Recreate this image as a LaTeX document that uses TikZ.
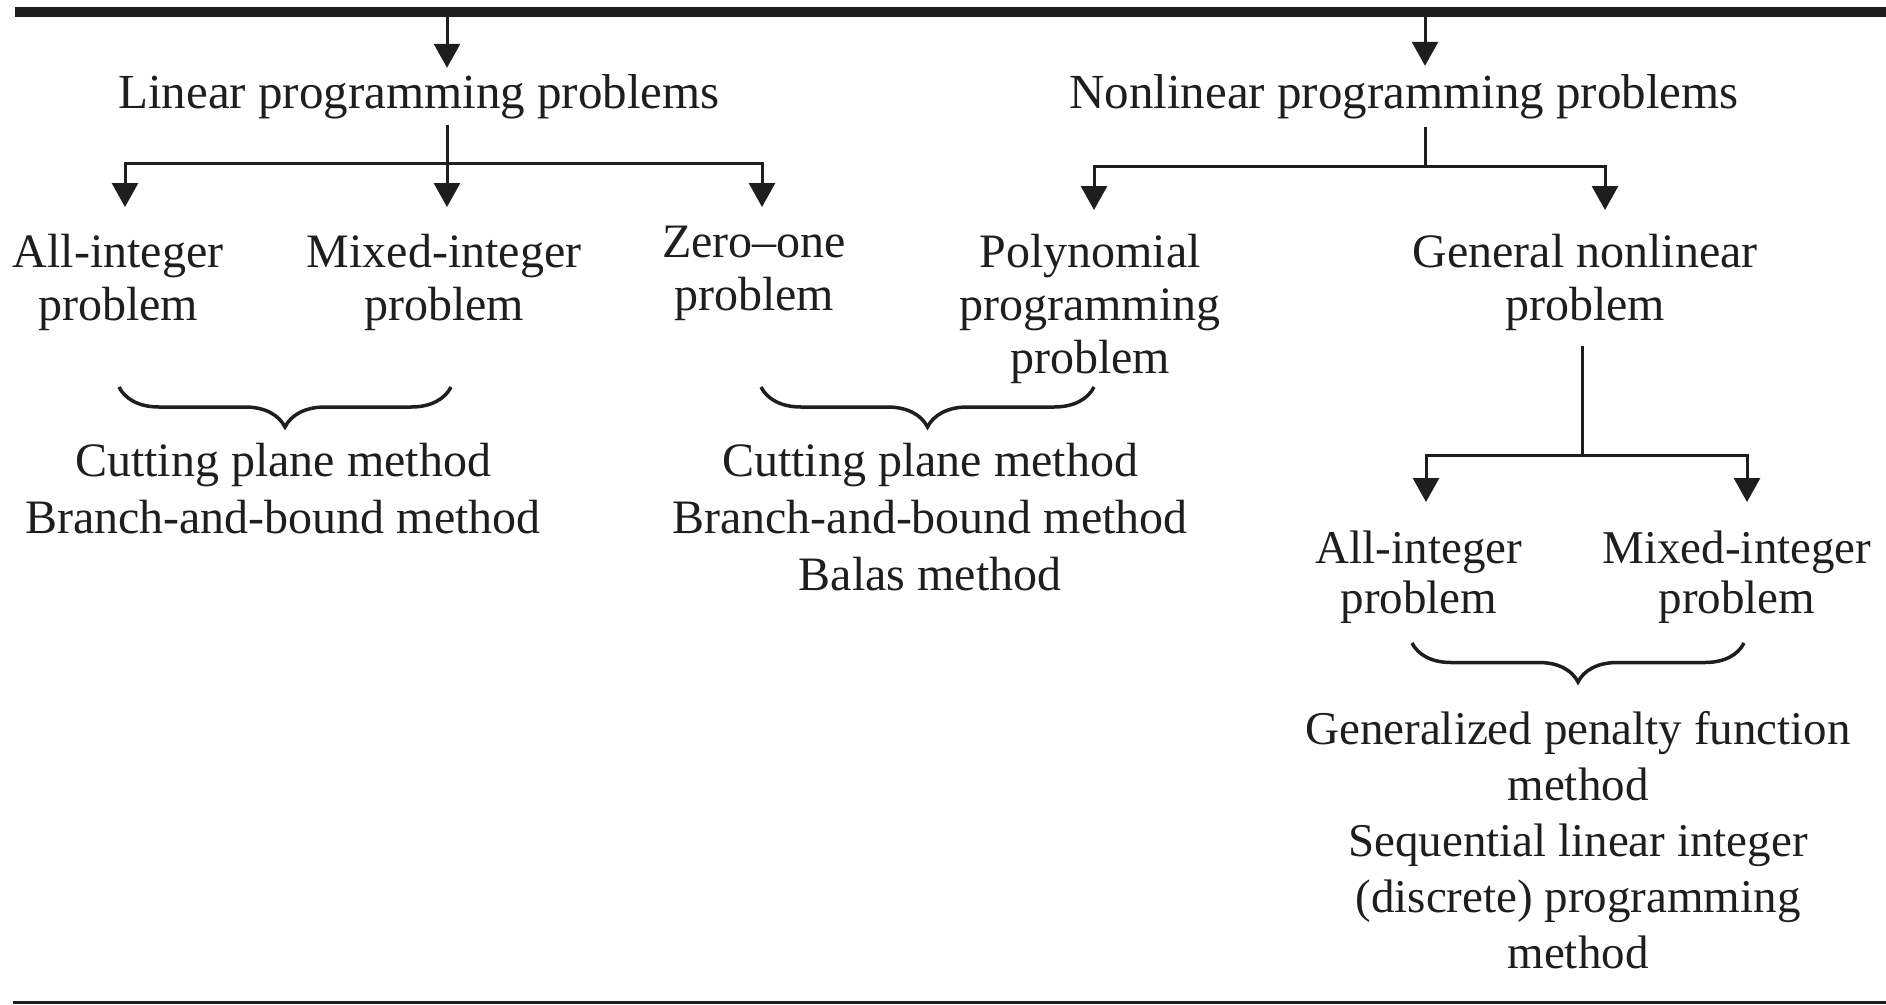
\documentclass[tikz,border=0pt]{standalone}
\usepackage{fontspec}
\setmainfont{Liberation Serif}
\usetikzlibrary{arrows.meta,decorations.pathreplacing,calc}
\definecolor{ink}{HTML}{1E1E1E}
\begin{document}
\begin{tikzpicture}[x=1pt,y=-1pt,
  txt/.style={inner sep=0pt, align=center, anchor=base, text=ink, font=\fontsize{48}{53}\selectfont},
  head/.style={txt, font=\fontsize{49}{56}\selectfont},
  meth/.style={txt, font=\fontsize{48}{57}\selectfont},
  leafb/.style={txt, font=\fontsize{47}{50}\selectfont},
  methb/.style={txt, font=\fontsize{47}{56}\selectfont},
  conn/.style={draw=ink, line width=3pt},
  arr/.style={conn, -{Triangle[width=26pt,length=24pt]}},
  brc/.style={draw=ink, line width=3.5pt, decorate, decoration={brace, amplitude=40pt}},
]
\useasboundingbox (0,0) rectangle (1886,1004);
% rules
\fill[ink] (15,7) rectangle (1886,17);
\fill[ink] (13,1001) rectangle (1886,1004);

% texts (anchor base = baseline of last line)
\node[head] (lp)  at (419,108)  {Linear programming problems};
\node[head] (nlp) at (1404,108) {Nonlinear programming problems};
\node[txt] (ai1)  at (118,320)  {All-integer\\problem};
\node[txt] (mi1)  at (444,320)  {Mixed-integer\\problem};
\node[txt] (zo)   at (754,310)  {Zero–one\\problem};
\node[txt] (poly) at (1090,373) {Polynomial\\programming\\problem};
\node[txt] (gen)  at (1585,320) {General nonlinear\\problem};
\node[leafb] (ai2) at (1419,613) {All-integer\\problem};
\node[leafb] (mi2) at (1737,613) {Mixed-integer\\problem};
\node[meth] (m1) at (283,533) {Cutting plane method\\Branch-and-bound method};
\node[meth] (m2) at (930,590) {Cutting plane method\\Branch-and-bound method\\Balas method};
\node[methb] (m3) at (1578,968) {Generalized penalty function\\method\\Sequential linear integer\\(discrete) programming\\method};

% coordinates
\coordinate (t1) at (447,17);
\coordinate (t2) at (1425,17);
\coordinate (j1) at (447,163);
\coordinate (j2) at (1425,166);
\coordinate (j3) at (1582,455);
\coordinate (a1) at (125,207);
\coordinate (a2) at (447,207);
\coordinate (a3) at (762,207);
\coordinate (b1) at (1094,210);
\coordinate (b2) at (1605,210);
\coordinate (c1) at (1426,502);
\coordinate (c2) at (1747,502);

% connectors
\draw[arr, shorten >=6pt] (t1) -- (t1 |- lp.north);
\draw[arr, shorten >=8pt] (t2) -- (t2 |- nlp.north);
\draw[conn, shorten <=6pt] (j1 |- lp.south) -- (j1);
\draw[arr] (j1) -| (a1);
\draw[arr] (j1) -- (a2);
\draw[arr] (j1) -| (a3);
\draw[conn, shorten <=8pt] (j2 |- nlp.south) -- (j2);
\draw[arr] (j2) -| (b1);
\draw[arr] (j2) -| (b2);
\draw[conn, shorten <=16pt] (j3 |- gen.south) -- (j3);
\draw[arr] (j3) -| (c1);
\draw[arr] (j3) -| (c2);

% braces
\coordinate (br1l) at (119,387); \coordinate (br1r) at (451,387);
\coordinate (br2l) at (761,387); \coordinate (br2r) at (1094,387);
\coordinate (br3l) at (1412,643); \coordinate (br3r) at (1744,643);
\draw[brc] (br1r) -- (br1l);
\draw[brc] (br2r) -- (br2l);
\draw[brc, decoration={brace, amplitude=39pt}] (br3r) -- (br3l);
\end{tikzpicture}
\end{document}
